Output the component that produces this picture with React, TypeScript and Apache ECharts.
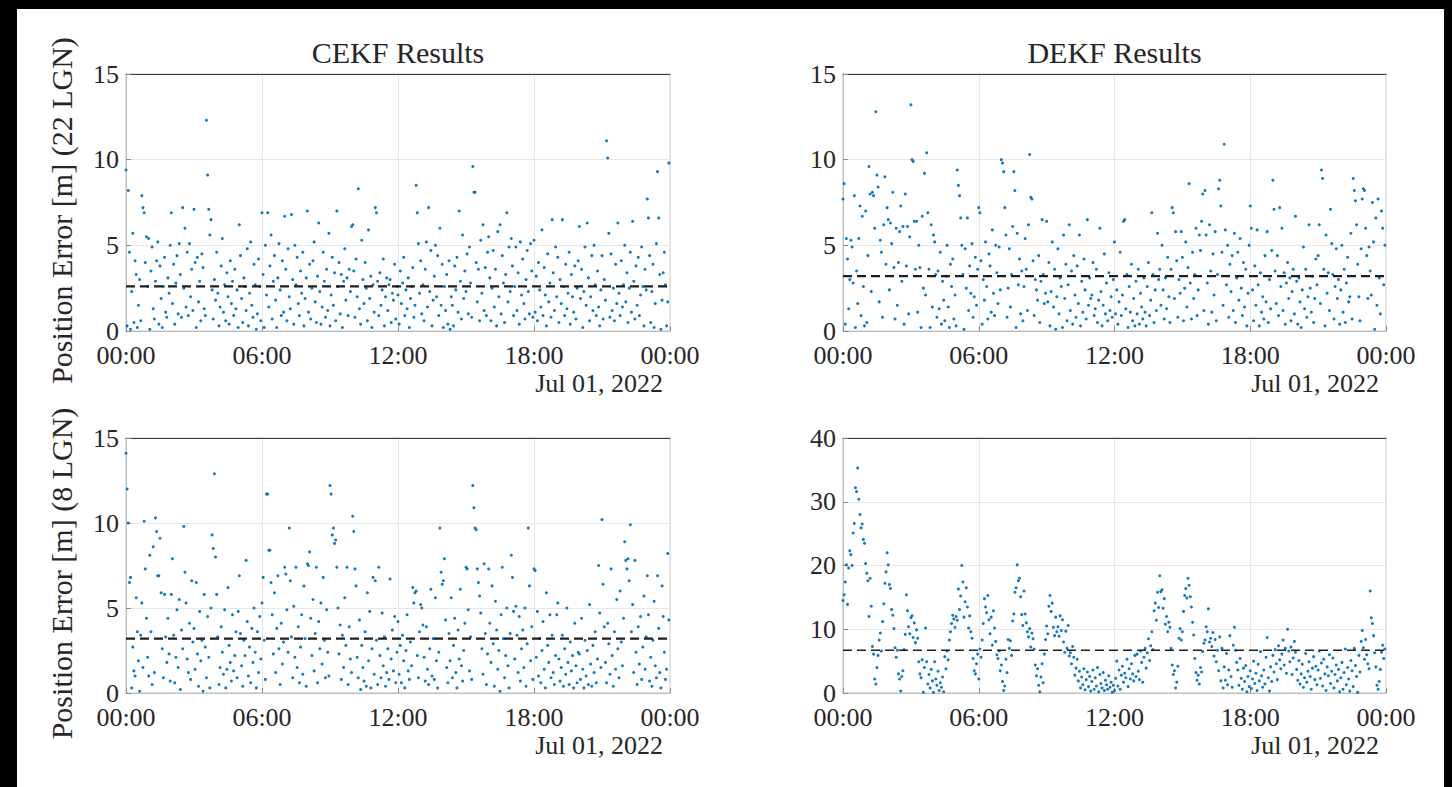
import React, { useEffect, useRef } from 'react';
import * as echarts from 'echarts';

// samples are evenly spaced, 20 per hour (every 3 minutes), starting at 00:00
const SAMPLES_PER_HOUR = 20;
const X_MIN = 0;
const X_MAX = 24;
const X_TICK_STEP = 6;
const DATE_LABEL = 'Jul 01, 2022';
const COLUMN_TITLES = ['CEKF Results', 'DEKF Results'];
const ROW_LABELS = ['Position Error [m] (22 LGN)', 'Position Error [m] (8 LGN)'];

// CEKF, 22 LGN (top left)
const CEKF_22 = [
  9.4, 0.3, 8.2, 4.6, 0.1, 2.3, 5.7, 0.5, 4.1, 3.3, 0.2, 1.5, 3.0, 0.6, 7.9, 7.2, 6.9, 4.0, 5.5, 2.6,
  5.4, 0.1, 3.5, 4.9, 1.3, 0.7, 2.9, 4.1, 5.2, 0.4, 3.8, 1.9, 0.2, 2.6, 4.3, 1.1, 0.8, 3.1, 2.2, 5.0,
  6.9, 1.6, 3.9, 0.4, 2.8, 4.4, 1.0, 5.1, 3.3, 0.8, 7.2, 2.5, 6.0, 1.4, 4.6, 0.9, 5.1, 2.0, 3.6, 1.2,
  7.1, 4.0, 0.2, 4.3, 1.7, 2.9, 0.6, 4.5, 3.7, 1.3, 0.9, 12.3, 9.1, 7.1, 5.6, 6.5, 2.4, 0.7, 3.0, 1.8,
  4.6, 2.2, 0.3, 1.4, 3.8, 5.4, 1.1, 2.7, 0.6, 3.4, 2.0, 0.4, 4.1, 1.6, 2.9, 0.9, 3.6, 1.3, 2.4, 0.2,
  6.2, 4.4, 1.9, 0.5, 3.1, 2.6, 1.2, 4.8, 0.3, 2.2, 5.2, 1.5, 0.8, 3.9, 2.7, 0.1, 1.0, 4.2, 2.6, 0.6,
  6.9, 3.3, 0.2, 5.0, 2.1, 6.9, 1.4, 3.8, 5.6, 0.7, 2.9, 4.4, 1.8, 0.2, 3.1, 5.1, 2.4, 0.9, 4.1, 1.1,
  6.7, 3.6, 0.6, 4.8, 2.0, 1.3, 6.8, 3.0, 0.4, 5.0, 2.7, 4.3, 1.6, 0.9, 3.5, 2.2, 4.6, 0.3, 1.9, 3.1,
  7.0, 1.1, 3.9, 0.7, 2.5, 4.1, 5.2, 1.7, 0.5, 3.2, 6.3, 2.3, 0.4, 1.4, 4.6, 2.9, 0.8, 3.6, 1.2, 5.7,
  0.3, 2.1, 4.3, 1.5, 3.4, 0.6, 7.0, 2.6, 4.0, 1.0, 3.3, 0.2, 2.9, 4.8, 1.8, 3.1, 0.9, 3.6, 2.3, 6.1,
  6.2, 3.5, 0.8, 4.2, 2.0, 8.3, 1.3, 0.4, 5.3, 3.0, 1.6, 4.0, 2.5, 0.6, 5.9, 1.9, 3.2, 0.2, 2.7, 1.1,
  7.2, 6.9, 2.9, 0.9, 3.4, 1.5, 2.4, 4.2, 0.3, 2.0, 3.1, 1.2, 2.7, 3.0, 0.5, 2.2, 1.8, 3.9, 0.7, 2.6,
  2.1, 0.4, 3.5, 1.6, 2.8, 4.3, 0.9, 2.4, 1.3, 3.1, 0.2, 1.9, 2.6, 3.7, 0.8, 1.5, 8.5, 6.9, 5.1, 2.2,
  4.1, 1.0, 2.7, 0.6, 3.6, 5.2, 1.4, 7.2, 2.3, 4.7, 0.3, 1.8, 3.2, 5.0, 2.0, 4.4, 0.9, 6.0, 1.5, 3.9,
  0.2, 2.6, 1.2, 3.3, 0.4, 4.1, 0.1, 2.0, 1.5, 0.3, 3.8, 2.4, 4.3, 1.1, 7.0, 2.9, 0.7, 5.6, 1.9, 3.5,
  2.3, 4.5, 1.0, 4.9, 2.8, 0.8, 9.6, 8.1, 8.1, 4.0, 1.7, 3.6, 0.6, 5.3, 2.2, 6.2, 1.2, 3.7, 0.9, 4.6,
  5.5, 3.1, 0.6, 2.5, 4.7, 1.4, 3.6, 0.3, 5.8, 2.0, 6.2, 1.0, 4.4, 2.8, 0.5, 3.3, 6.9, 1.7, 4.9, 2.3,
  5.4, 3.8, 0.9, 2.6, 4.9, 1.2, 3.4, 0.4, 5.2, 2.1, 4.2, 1.6, 0.7, 3.0, 4.7, 2.3, 1.0, 5.1, 3.5, 0.8,
  5.3, 1.1, 3.2, 0.6, 4.0, 2.4, 1.4, 5.9, 0.9, 3.7, 2.1, 0.3, 4.5, 1.7, 2.8, 0.8, 6.5, 3.4, 1.2, 4.9,
  2.0, 4.3, 0.5, 3.0, 1.6, 6.5, 2.6, 0.9, 3.9, 1.3, 2.2, 4.6, 0.4, 3.3, 2.0, 1.1, 3.8, 0.7, 2.5, 4.1,
  6.1, 1.9, 3.6, 0.2, 2.3, 4.9, 1.5, 6.3, 3.1, 0.6, 2.0, 4.4, 1.2, 5.0, 2.7, 0.9, 3.5, 1.4, 0.3, 2.4,
  4.4, 0.7, 3.0, 1.8, 11.1, 10.1, 5.7, 0.8, 4.5, 1.2, 2.5, 0.6, 3.9, 1.6, 6.3, 2.2, 0.9, 4.1, 1.4, 2.7,
  5.0, 1.7, 3.4, 0.5, 2.5, 4.6, 1.1, 6.4, 2.9, 0.7, 3.8, 1.5, 4.3, 0.9, 2.1, 4.9, 2.6, 0.3, 3.6, 2.4,
  7.7, 6.6, 4.4, 0.5, 2.3, 3.9, 0.2, 1.6, 5.1, 9.3, 6.6, 3.3, 0.1, 1.8, 3.4, 4.6, 2.7, 0.3, 1.7, 9.8,
];

// DEKF, 22 LGN (top right)
const DEKF_22 = [
  7.7, 8.6, 0.4, 5.4, 4.2, 1.3, 3.0, 5.3, 4.9, 2.8, 7.9, 0.2, 3.5, 1.6, 5.4, 7.3, 0.9, 6.7, 2.6, 0.3,
  7.0, 0.5, 4.4, 9.6, 8.0, 2.3, 8.1, 7.9, 6.0, 12.8, 9.1, 8.4, 1.7, 5.3, 4.6, 0.8, 6.2, 9.0, 3.9, 7.2,
  6.5, 2.4, 6.3, 5.1, 8.1, 3.7, 0.7, 6.0, 1.5, 4.0, 5.8, 7.3, 2.9, 6.1, 0.4, 8.0, 3.8, 6.1, 1.0, 5.5,
  13.2, 10.0, 9.9, 6.4, 3.6, 6.4, 1.1, 5.0, 3.7, 0.2, 6.7, 2.5, 9.2, 2.1, 10.4, 6.9, 3.6, 0.2, 6.2, 1.4,
  5.6, 5.2, 3.3, 0.8, 3.5, 1.3, 4.6, 0.4, 2.9, 1.8, 0.6, 3.2, 5.0, 1.4, 0.2, 3.9, 2.6, 4.2, 0.7, 2.1,
  0.3, 9.4, 8.5, 7.9, 6.6, 5.0, 3.3, 0.1, 4.8, 2.5, 6.6, 1.2, 3.8, 2.2, 5.1, 0.8, 2.0, 4.3, 1.5, 3.6,
  7.2, 6.9, 4.1, 0.4, 3.0, 1.8, 5.2, 2.6, 0.7, 4.5, 3.8, 1.1, 5.9, 2.2, 0.9, 5.0, 3.4, 1.6, 4.9, 2.4,
  10.0, 9.8, 9.3, 7.2, 5.6, 0.8, 2.5, 4.8, 1.4, 3.3, 6.1, 9.3, 8.2, 0.2, 5.7, 2.7, 4.2, 1.0, 3.5, 0.6,
  2.6, 5.4, 3.6, 1.2, 6.2, 10.3, 7.8, 7.7, 4.1, 0.9, 3.0, 2.4, 1.8, 4.4, 0.5, 2.9, 6.5, 3.3, 1.6, 2.2,
  6.4, 1.7, 4.0, 0.3, 2.3, 5.2, 1.4, 3.6, 0.1, 2.0, 4.8, 1.0, 3.1, 2.6, 0.2, 5.6, 1.9, 3.9, 0.6, 2.7,
  6.2, 1.2, 3.5, 0.4, 4.4, 2.1, 0.8, 3.8, 1.6, 5.6, 0.3, 2.9, 1.1, 4.2, 2.4, 0.7, 6.5, 1.5, 3.1, 1.9,
  2.1, 4.0, 0.9, 1.3, 3.6, 0.5, 1.8, 6.0, 2.3, 0.3, 1.5, 4.5, 1.0, 2.8, 0.6, 3.4, 1.2, 2.0, 0.8, 3.0,
  5.2, 1.0, 2.4, 0.4, 1.7, 4.6, 0.9, 2.1, 6.4, 6.5, 1.3, 3.3, 0.2, 2.6, 1.1, 3.9, 0.6, 1.9, 0.3, 2.9,
  1.0, 3.6, 0.4, 2.2, 1.4, 0.7, 3.1, 1.1, 0.3, 2.6, 4.0, 0.9, 1.8, 6.9, 3.3, 0.5, 2.4, 1.2, 5.7, 3.0,
  3.6, 1.5, 5.0, 2.4, 0.7, 3.1, 1.3, 4.3, 2.0, 0.5, 3.6, 7.2, 6.9, 1.9, 5.8, 4.1, 0.8, 3.0, 2.2, 5.8,
  4.3, 0.6, 2.5, 5.2, 1.4, 3.7, 8.6, 2.8, 0.7, 4.6, 1.9, 3.3, 6.0, 0.9, 2.4, 5.6, 4.7, 6.4, 8.0, 1.2,
  8.2, 5.6, 2.8, 0.4, 6.2, 3.5, 1.1, 4.5, 2.1, 5.8, 0.6, 3.3, 8.3, 8.8, 7.3, 4.6, 1.5, 10.9, 5.9, 2.7,
  5.0, 0.8, 3.9, 2.3, 4.4, 1.2, 5.7, 0.5, 3.1, 4.6, 1.8, 5.4, 2.5, 0.9, 4.0, 1.4, 3.6, 0.3, 2.2, 5.0,
  7.3, 6.0, 2.4, 0.6, 3.8, 1.5, 5.9, 2.7, 0.3, 3.4, 1.1, 2.0, 0.7, 4.4, 1.7, 5.8, 0.5, 3.0, 1.3, 4.7,
  8.8, 7.1, 3.5, 1.6, 4.4, 0.9, 7.2, 2.6, 6.0, 1.2, 3.4, 0.4, 2.8, 4.0, 1.9, 3.1, 0.6, 2.3, 3.6, 1.0,
  6.7, 2.9, 0.4, 3.1, 1.7, 0.2, 2.4, 4.9, 1.3, 3.6, 0.8, 2.0, 6.2, 2.5, 1.1, 3.2, 0.5, 1.9, 4.2, 2.7,
  4.4, 6.2, 1.6, 9.4, 8.9, 3.6, 0.3, 5.6, 2.2, 3.4, 1.2, 7.1, 5.1, 3.3, 0.7, 2.6, 4.8, 1.9, 3.0, 0.4,
  2.4, 5.0, 1.1, 3.6, 0.5, 2.8, 4.3, 1.7, 2.0, 5.7, 0.7, 8.9, 8.2, 7.6, 6.2, 3.9, 2.0, 0.6, 4.8, 7.7,
  8.3, 8.2, 6.0, 4.4, 1.9, 4.9, 3.5, 2.1, 7.5, 5.2, 0.1, 6.6, 1.5, 7.7, 3.1, 1.0, 7.0, 6.0, 2.7, 5.0,
];

// CEKF, 8 LGN (bottom left)
const CEKF_8 = [
  14.1, 12.0, 10.0, 6.5, 6.8, 0.3, 2.7, 1.3, 1.0, 5.6, 3.6, 1.9, 0.1, 3.4, 5.3, 1.5, 10.1, 7.3, 4.4, 2.1,
  1.0, 8.1, 3.6, 0.5, 8.6, 1.2, 10.3, 9.5, 6.9, 6.9, 9.1, 5.9, 2.6, 0.9, 5.8, 3.3, 1.8, 4.4, 2.3, 0.7,
  5.8, 7.9, 3.4, 0.6, 2.1, 4.9, 1.5, 5.5, 0.2, 3.7, 2.6, 9.8, 7.1, 5.3, 2.0, 1.2, 4.1, 0.8, 6.6, 3.0,
  3.8, 1.4, 6.5, 2.3, 0.4, 4.8, 1.9, 3.1, 0.1, 5.8, 2.7, 0.9, 4.5, 2.1, 0.3, 5.0, 9.3, 8.5, 12.9, 8.0,
  5.8, 3.3, 0.5, 1.5, 3.9, 2.4, 1.1, 4.9, 0.3, 1.4, 6.2, 2.8, 1.8, 0.7, 4.6, 1.3, 2.2, 3.6, 0.9, 4.8,
  6.9, 3.5, 1.6, 0.4, 3.1, 2.2, 7.8, 4.2, 1.0, 2.7, 0.6, 3.8, 1.8, 5.0, 2.4, 0.3, 3.6, 1.2, 4.5, 2.0,
  5.3, 6.8, 3.1, 0.8, 11.7, 11.7, 8.4, 8.4, 6.5, 4.6, 2.3, 5.9, 1.2, 3.8, 6.9, 2.6, 0.5, 4.1, 1.7, 3.0,
  7.4, 7.0, 4.9, 2.4, 9.7, 6.6, 3.3, 0.9, 5.1, 2.1, 7.4, 1.5, 3.9, 0.6, 2.7, 4.6, 1.1, 6.3, 3.2, 0.4,
  7.6, 7.5, 8.3, 4.4, 2.2, 5.5, 1.3, 3.5, 7.4, 0.6, 4.2, 2.6, 5.3, 1.7, 6.8, 3.1, 0.9, 4.9, 2.4, 1.0,
  12.2, 11.7, 9.3, 9.7, 8.8, 9.0, 7.4, 5.0, 2.3, 4.0, 0.8, 3.4, 1.5, 5.6, 2.8, 7.4, 0.5, 3.9, 2.0, 1.2,
  10.4, 9.5, 7.3, 6.3, 2.1, 0.9, 4.3, 0.2, 2.8, 1.5, 0.7, 3.6, 0.4, 5.9, 1.9, 4.8, 0.3, 2.6, 6.8, 1.1,
  6.6, 3.1, 0.5, 7.4, 2.2, 0.9, 4.7, 1.6, 3.3, 0.4, 1.2, 2.6, 0.8, 6.7, 2.0, 3.7, 1.3, 4.5, 0.6, 2.4,
  4.2, 1.1, 2.8, 0.6, 3.4, 1.9, 0.3, 2.5, 4.6, 1.3, 0.8, 3.0, 1.6, 6.2, 5.3, 5.9, 6.0, 2.2, 0.9, 3.6,
  5.2, 5.0, 4.0, 2.1, 0.7, 3.9, 1.4, 0.5, 2.6, 6.1, 1.0, 3.2, 0.8, 5.6, 1.9, 0.3, 2.4, 9.7, 7.1, 6.4,
  6.6, 7.9, 4.3, 1.5, 0.6, 3.5, 1.9, 5.6, 0.9, 2.8, 4.4, 1.2, 0.3, 3.7, 2.0, 6.1, 1.6, 0.7, 2.5, 4.1,
  7.4, 7.3, 4.9, 1.3, 3.3, 0.8, 12.2, 10.9, 9.7, 9.6, 7.3, 6.5, 5.7, 4.7, 2.6, 1.1, 7.6, 3.5, 0.5, 2.3,
  7.3, 4.1, 1.8, 6.3, 2.9, 0.4, 5.4, 3.7, 1.4, 2.5, 0.1, 4.6, 7.4, 3.2, 0.9, 2.2, 5.0, 1.6, 0.3, 3.5,
  8.1, 6.8, 4.8, 2.0, 5.1, 3.4, 1.2, 4.5, 0.7, 2.6, 3.7, 1.5, 5.0, 0.4, 2.9, 9.7, 6.3, 1.9, 3.9, 0.8,
  7.3, 7.2, 2.1, 4.8, 1.0, 3.2, 0.6, 2.5, 4.2, 1.4, 0.3, 5.9, 2.8, 1.8, 4.6, 0.9, 3.4, 1.2, 0.5, 2.2,
  4.6, 5.3, 2.0, 0.7, 1.5, 3.4, 0.4, 2.6, 1.1, 5.0, 1.8, 0.5, 3.0, 1.3, 2.2, 0.3, 4.1, 1.6, 0.6, 2.4,
  2.3, 0.8, 4.4, 1.4, 0.3, 3.1, 1.0, 2.5, 0.5, 5.2, 1.7, 0.4, 2.8, 1.2, 3.6, 0.6, 2.0, 7.5, 4.7, 1.5,
  10.2, 6.4, 3.9, 1.8, 0.6, 4.1, 2.9, 1.1, 7.3, 2.2, 0.4, 3.6, 1.4, 5.5, 2.6, 0.9, 6.0, 3.0, 1.6, 4.4,
  8.9, 7.8, 7.3, 7.9, 6.6, 9.9, 3.6, 5.2, 1.2, 7.8, 2.4, 0.5, 3.9, 1.7, 4.5, 0.8, 2.7, 5.7, 1.4, 3.3,
  6.9, 4.6, 0.7, 2.1, 0.4, 3.1, 5.4, 1.6, 0.9, 6.9, 3.8, 1.2, 0.3, 6.3, 4.5, 2.4, 0.8, 1.4, 8.2, 4.3,
];

// DEKF, 8 LGN (bottom right)
const DEKF_8 = [
  14.5, 15.4, 17.4, 20.1, 13.9, 19.6, 22.3, 21.7, 20.0, 25.1, 26.6, 32.2, 31.6, 35.3, 30.4, 28.0, 25.9, 26.5, 24.1, 23.5,
  20.3, 18.8, 17.6, 12.0, 18.0, 13.6, 7.3, 6.1, 2.2, 1.4, 4.0, 5.9, 8.3, 9.4, 6.6, 11.2, 14.0, 17.2, 19.0, 22.0,
  20.1, 17.0, 16.4, 13.1, 12.2, 10.1, 7.1, 5.6, 6.7, 3.0, 2.2, 0.3, 2.6, 3.5, 6.8, 9.2, 15.4, 12.9, 10.4, 9.3,
  11.8, 12.1, 8.7, 11.0, 7.9, 9.9, 8.6, 4.9, 3.0, 2.4, 5.2, 0.1, 4.0, 10.2, 4.9, 1.4, 2.9, 0.8, 3.7, 1.9,
  0.1, 4.9, 2.2, 1.2, 3.4, 0.4, 1.6, 0.9, 2.5, 0.2, 5.7, 3.8, 6.6, 5.2, 8.3, 9.6, 10.9, 12.2, 11.6, 10.3,
  12.0, 11.4, 16.3, 13.1, 15.2, 20.0, 17.4, 11.9, 14.3, 16.5, 13.5, 10.2, 12.1, 9.6, 8.6, 5.4, 3.5, 3.0, 4.6, 6.1,
  2.2, 6.9, 5.6, 8.3, 10.9, 14.8, 13.5, 12.6, 15.3, 11.5, 9.3, 11.9, 7.5, 12.9, 10.2, 8.1, 6.0, 5.4, 6.6, 3.5,
  4.4, 1.8, 0.4, 1.1, 5.3, 3.2, 8.4, 7.0, 8.2, 5.9, 11.3, 12.4, 15.8, 16.5, 20.1, 17.6, 18.0, 15.1, 12.3, 10.6,
  16.0, 12.4, 11.0, 9.6, 8.8, 10.1, 7.2, 9.4, 8.5, 6.9, 4.4, 2.7, 3.8, 1.2, 0.2, 2.5, 4.6, 1.6, 6.1, 8.4,
  10.5, 9.3, 13.6, 15.3, 12.8, 14.1, 10.3, 9.0, 11.9, 9.6, 10.4, 8.9, 12.1, 9.8, 11.5, 8.0, 6.4, 9.7, 7.0, 10.6,
  5.8, 6.3, 4.6, 7.3, 5.6, 2.8, 3.9, 5.3, 1.9, 3.4, 0.8, 2.5, 1.3, 3.8, 0.5, 2.1, 3.3, 1.0, 2.6, 0.3,
  1.8, 3.6, 0.6, 2.4, 1.1, 4.0, 0.2, 2.9, 1.5, 0.8, 3.2, 0.4, 2.0, 1.3, 0.6, 2.7, 0.9, 1.7, 0.1, 1.2,
  0.4, 2.3, 5.0, 1.1, 3.6, 0.6, 2.8, 4.2, 1.7, 3.1, 2.4, 5.3, 1.0, 3.8, 2.2, 4.6, 3.0, 1.9, 5.9, 2.6,
  6.1, 3.4, 2.1, 6.6, 4.8, 1.7, 5.6, 7.0, 3.9, 6.3, 8.5, 5.1, 7.4, 9.6, 6.8, 12.9, 14.1, 11.4, 15.8, 13.4,
  18.4, 15.9, 16.2, 13.3, 14.8, 10.8, 12.0, 9.6, 11.1, 10.3, 7.0, 4.4, 2.9, 3.5, 0.8, 1.7, 4.2, 8.6, 10.1, 8.3,
  9.6, 12.8, 15.3, 16.4, 14.9, 18.0, 16.9, 15.1, 13.5, 11.1, 9.1, 5.4, 3.2, 2.0, 2.8, 1.4, 4.0, 3.3, 6.5, 7.8,
  8.3, 10.4, 9.6, 13.2, 8.0, 8.6, 7.3, 9.5, 5.8, 8.4, 4.9, 6.7, 3.5, 8.8, 1.9, 7.0, 0.8, 4.1, 2.0, 6.2,
  1.3, 3.6, 9.0, 2.6, 0.9, 7.5, 10.3, 6.7, 4.8, 3.6, 1.2, 5.4, 2.3, 0.6, 3.9, 1.8, 4.3, 0.2, 2.6, 1.0,
  3.5, 0.7, 2.2, 5.0, 1.5, 3.1, 0.4, 4.5, 1.9, 6.5, 2.7, 0.9, 3.6, 1.4, 5.6, 8.7, 2.4, 0.3, 4.1, 1.8,
  5.9, 3.3, 6.8, 4.6, 2.1, 7.4, 5.2, 3.8, 6.1, 8.3, 4.4, 7.0, 3.1, 10.0, 6.6, 4.9, 7.2, 2.9, 5.5, 8.1,
  6.4, 3.7, 2.0, 5.1, 1.4, 3.0, 4.5, 0.9, 2.4, 6.2, 1.7, 3.4, 4.9, 2.6, 0.6, 3.9, 5.7, 2.1, 4.2, 1.3,
  3.6, 6.6, 2.3, 4.7, 1.1, 5.3, 3.0, 0.4, 4.1, 2.7, 6.0, 1.5, 3.4, 5.5, 0.8, 2.9, 4.4, 1.9, 3.7, 0.2,
  2.4, 4.8, 0.6, 3.2, 6.9, 1.3, 4.0, 2.2, 0.3, 5.1, 3.5, 1.0, 7.0, 4.3, 2.6, 0.1, 5.9, 3.3, 8.1, 9.8,
  7.1, 5.3, 8.4, 6.0, 4.6, 3.8, 16.0, 11.8, 10.9, 9.0, 6.3, 4.1, 1.2, 0.6, 1.8, 3.7, 6.4, 7.5, 5.4, 6.9,
];

// mean position error (dashed line)
const MEAN_CEKF_22 = 2.6;
const MEAN_DEKF_22 = 3.2;
const MEAN_CEKF_8 = 3.2;
const MEAN_DEKF_8 = 6.7;

const Y_MAX_22 = 15;
const Y_STEP_22 = 5;
const Y_MAX_DEKF_8 = 40;
const Y_STEP_DEKF_8 = 10;

const FONT = 'Liberation Serif';
const TEXT_COLOR = '#262626';
const DOT_COLOR = '#0072BD';

const PANELS = [
  { values: CEKF_22, mean: MEAN_CEKF_22, yMax: Y_MAX_22, yStep: Y_STEP_22, left: 126, top: 74, width: 544, height: 257 },
  { values: DEKF_22, mean: MEAN_DEKF_22, yMax: Y_MAX_22, yStep: Y_STEP_22, left: 843, top: 74, width: 543, height: 257 },
  { values: CEKF_8, mean: MEAN_CEKF_8, yMax: Y_MAX_22, yStep: Y_STEP_22, left: 126, top: 438, width: 544, height: 255 },
  { values: DEKF_8, mean: MEAN_DEKF_8, yMax: Y_MAX_DEKF_8, yStep: Y_STEP_DEKF_8, left: 843, top: 438, width: 543, height: 255 },
];

const pad2 = (n: number) => (n < 10 ? '0' : '') + n;

export default function App() {
  const ref = useRef<HTMLDivElement>(null);

  useEffect(() => {
    document.body.style.margin = '0';
    if (!ref.current) return;
    const chart = echarts.init(ref.current, undefined, { renderer: 'svg' });

    const grids: any[] = [];
    const xAxes: any[] = [];
    const yAxes: any[] = [];
    const series: any[] = [];

    PANELS.forEach((p, i) => {
      grids.push({
        left: p.left, top: p.top, width: p.width, height: p.height,
        show: true, borderColor: '#c4c4c4', borderWidth: 1, backgroundColor: 'transparent',
      });
      xAxes.push({
        type: 'value', gridIndex: i, min: X_MIN, max: X_MAX, interval: X_TICK_STEP,
        axisLine: { show: true, lineStyle: { color: '#bdbdbd', width: 1 } },
        axisTick: { show: true, inside: true, length: 5, lineStyle: { color: '#8a8a8a' } },
        axisLabel: {
          fontFamily: FONT, fontSize: 26, lineHeight: 22, color: TEXT_COLOR, margin: 13,
          formatter: (v: number) => pad2(v % 24) + ':00',
        },
        splitLine: { show: true, lineStyle: { color: '#e6e6e6', width: 1 } },
      });
      xAxes.push({
        type: 'value', gridIndex: i, position: 'top', min: X_MIN, max: X_MAX, interval: X_TICK_STEP,
        axisLine: { show: true, lineStyle: { color: '#3a3a3a', width: 1.2 } },
        axisTick: { show: false }, axisLabel: { show: false }, splitLine: { show: false },
      });
      yAxes.push({
        type: 'value', gridIndex: i, min: 0, max: p.yMax, interval: p.yStep,
        axisLine: { show: true, lineStyle: { color: '#bdbdbd', width: 1 } },
        axisTick: { show: true, inside: true, length: 5, lineStyle: { color: '#8a8a8a' } },
        axisLabel: { fontFamily: FONT, fontSize: 26, lineHeight: 20, color: TEXT_COLOR, margin: 7 },
        splitLine: { show: true, lineStyle: { color: '#e6e6e6', width: 1 } },
      });
      series.push({
        type: 'scatter', xAxisIndex: i * 2, yAxisIndex: i,
        symbol: 'circle', symbolSize: 3,
        itemStyle: { color: DOT_COLOR, opacity: 0.95 },
        data: p.values.map((v, k) => [k / SAMPLES_PER_HOUR, v]),
        z: 3,
      });
      series.push({
        type: 'line', xAxisIndex: i * 2, yAxisIndex: i,
        symbol: 'none', silent: true,
        lineStyle: { color: '#1e1e1e', width: i === 3 ? 1.6 : 2.2, type: [9, 5] },
        data: [[X_MIN, p.mean], [X_MAX, p.mean]],
        z: 4,
      });
    });

    const texts: any[] = [];
    // column titles
    [0, 1].forEach((c) => {
      const p = PANELS[c];
      texts.push({
        type: 'text', x: p.left + p.width / 2, y: 52,
        style: { text: COLUMN_TITLES[c], fill: TEXT_COLOR, fontFamily: FONT, fontSize: 30, align: 'center', verticalAlign: 'middle' },
      });
    });
    // row labels
    [0, 2].forEach((idx, r) => {
      const p = PANELS[idx];
      texts.push({
        type: 'text', x: 61, y: p.top + p.height / 2 + 8, rotation: Math.PI / 2,
        style: { text: ROW_LABELS[r], fill: TEXT_COLOR, fontFamily: FONT, fontSize: 30, align: 'center', verticalAlign: 'middle' },
      });
    });
    // date labels
    PANELS.forEach((p) => {
      texts.push({
        type: 'text', x: p.left + p.width - 7, y: p.top + p.height + 52,
        style: { text: DATE_LABEL, fill: TEXT_COLOR, fontFamily: FONT, fontSize: 26, align: 'right', verticalAlign: 'middle' },
      });
    });

    chart.setOption({
      animation: false,
      backgroundColor: '#000000',
      graphic: [
        { type: 'rect', z: -10, silent: true, shape: { x: 17, y: 9, width: 1427, height: 778 }, style: { fill: '#ffffff' } },
        ...texts,
      ],
      grid: grids,
      xAxis: xAxes,
      yAxis: yAxes,
      series,
    });

    return () => chart.dispose();
  }, []);

  return <div ref={ref} style={{ width: 1452, height: 787 }} />;
}
